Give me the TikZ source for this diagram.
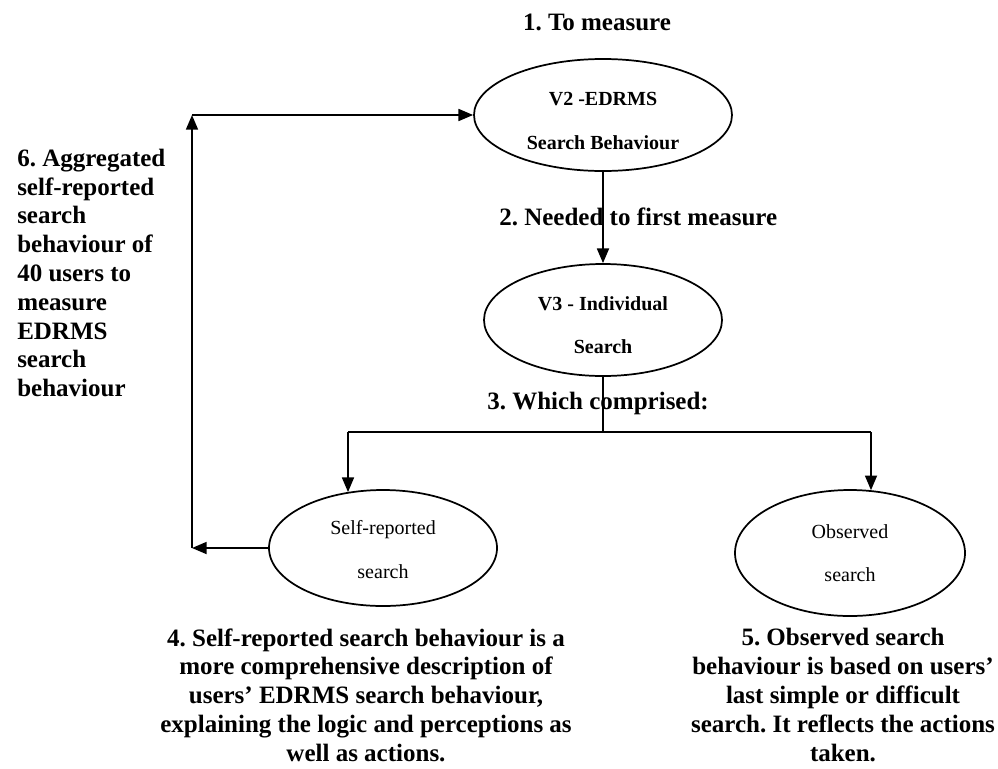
\documentclass[tikz,border=0pt]{standalone}
\usepackage{fontspec}
\setmainfont{Liberation Serif}
\frenchspacing
\usetikzlibrary{shapes.geometric,arrows.meta}
\begin{document}
\begin{tikzpicture}[x=0.75pt,y=-0.75pt,
  ell/.style={draw, ellipse, inner sep=0pt, line width=1.3pt, align=center,
    font=\fontsize{15}{32.5}\selectfont},
  ellb/.style={ell, font=\bfseries\fontsize{15}{32.5}\selectfont},
  lbl/.style={inner sep=0pt, font=\bfseries\fontsize{18.75}{21.6}\selectfont},
  ln/.style={line width=1.3pt},
  arr/.style={line width=1.3pt, -{Triangle[length=11pt,width=9pt]}}]
\useasboundingbox (0,0) rectangle (998,768);

\node[ellb, minimum width=193.5pt, minimum height=84pt] (v2) at (603,115) {\rule{0pt}{19pt}V2 -EDRMS\\Search Behaviour};
\node[ellb, minimum width=178.5pt, minimum height=84pt] (v3) at (603,320) {\rule{0pt}{18pt}V3 - Individual\\Search};
\node[ell, minimum width=171pt, minimum height=87pt] (sr) at (383,548) {\rule{0pt}{13pt}Self-reported\\search};
\node[ell, minimum width=172.5pt, minimum height=94.5pt] (ob) at (850,553) {Observed\\search};

\node[lbl] (t1) at (597,22) {1. To measure};
\node[lbl, anchor=west] (t2) at (499,217) {2. Needed to first measure};
\node[lbl, anchor=west] (t3) at (487,403) {3. Which comprised:};
\node[lbl, anchor=west, align=left] (t6) at (17,273) {6. Aggregated\\self-reported\\search\\behaviour of\\40 users to\\measure\\EDRMS\\search\\behaviour};
\node[lbl, align=center] (t4) at (366,695) {4. Self-reported search behaviour is a\\more comprehensive description of\\users’ EDRMS search behaviour,\\explaining the logic and perceptions as\\well as actions.};
\node[lbl, align=center] (t5) at (843,695) {5. Observed search\\behaviour is based on users’\\last simple or difficult\\search. It reflects the actions\\taken.};

\coordinate (jc) at (603,432);
\coordinate (jl) at (348,432);
\coordinate (jr) at (871,432);
\coordinate (cb) at (192,548);
\coordinate (ct) at (192,115);

\draw[arr] (v2.south) -- (v3.north);
\draw[ln] (v3.south) -- (jc);
\draw[ln] (jl) -- (jr);
\draw[arr, shorten >=-2.2pt] (jl) -- (jl |- sr.north);
\draw[arr, shorten >=-0.8pt] (jr) -- (jr |- ob.north);
\draw[arr] (sr.west) -- (cb);
\draw[arr] (cb) -- (ct);
\draw[arr] (ct) -- (v2.west);
\end{tikzpicture}
\end{document}
